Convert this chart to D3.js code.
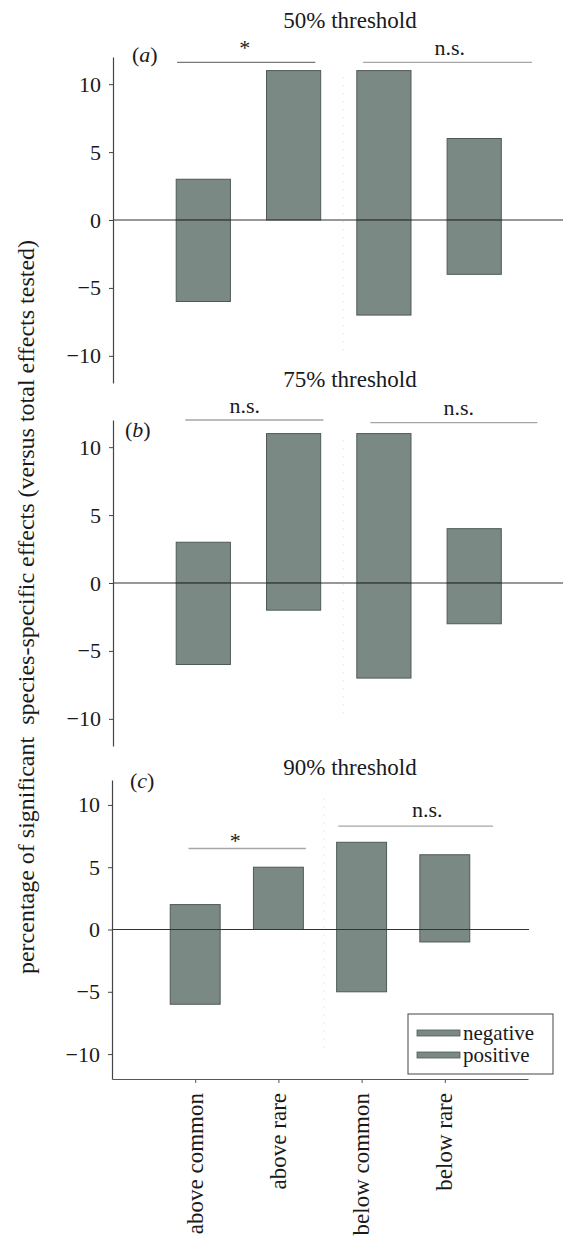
<!DOCTYPE html>
<html>
<head>
<meta charset="utf-8">
<script src="https://cdn.jsdelivr.net/npm/d3@7"></script>
<style>
  body { margin: 0; background: #fff; }
  svg { display: block; font-family: "Liberation Serif", "Times New Roman", serif; }
  svg text { font-family: "Liberation Serif", "Times New Roman", serif; }
</style>
</head>
<body>
<div id="chart"></div>
<script>
// categories along the x axis
const categories = ["above common", "above rare", "below common", "below rare"];

// bar tops (positive) and bar bottoms (negative), one pair per threshold
const positive50 = [3, 11, 11, 6];
const negative50 = [-6, 0, -7, -4];
const positive75 = [3, 11, 11, 4];
const negative75 = [-6, -2, -7, -3];
const positive90 = [2, 5, 7, 6];
const negative90 = [-6, 0, -5, -1];

const thresholds = ["50% threshold", "75% threshold", "90% threshold"];
const panelLetters = ["a", "b", "c"];
const yTicks = [-10, -5, 0, 5, 10];

// significance labels over the two pairs of bars
const sigLabels = [["*", "n.s."], ["n.s.", "n.s."], ["*", "n.s."]];

const width = 563;
const height = 1236;

// panel geometry (the scanned figure has panels of slightly different size)
const panels = [
  { pos: positive50, neg: negative50, top: 57, bottom: 383, left: 113, right: 564.5, zeroEnd: 563, titleY: 28, labelX: 132, labelY: 62,
    sig: [{ x0: 0.71, x1: 2.24, y: 11.6, tx: 1.46, dy: -7, dark: true }, { x0: 2.77, x1: 4.64, y: 11.6, tx: 3.73, dy: -7 }] },
  { pos: positive75, neg: negative75, top: 420, bottom: 746, left: 113, right: 564.5, zeroEnd: 563, titleY: 387, labelX: 125, labelY: 437,
    sig: [{ x0: 0.8, x1: 2.33, y: 12.0, tx: 1.46, dy: -7 }, { x0: 2.85, x1: 4.7, y: 11.8, tx: 3.83, dy: -8 }] },
  { pos: positive90, neg: negative90, top: 780, bottom: 1079, left: 112, right: 528, zeroEnd: 529, titleY: 775, labelX: 130, labelY: 788,
    sig: [{ x0: 0.92, x1: 2.33, y: 6.5, tx: 1.48, dy: -1 }, { x0: 2.72, x1: 4.58, y: 8.3, tx: 3.79, dy: -9 }] },
];

const barFill = "#7b8985";
const barStroke = "#4f5a57";

const svg = d3.select("#chart")
  .append("svg")
  .attr("width", width)
  .attr("height", height);

panels.forEach((p, k) => {
  const x = d3.scaleLinear().domain([0, 5]).range([p.left, p.right]);
  const y = d3.scaleLinear().domain([-12, 12]).range([p.bottom, p.top]);
  const g = svg.append("g");

  // faint dotted divider between "above" and "below"
  g.append("line")
    .attr("x1", x(2.55)).attr("x2", x(2.55))
    .attr("y1", y(10.5)).attr("y2", y(-10))
    .attr("stroke", "#d8d8d8")
    .attr("stroke-dasharray", "1,7");

  // bars: positive part and negative part, same colour
  const rows = categories.map((c, i) => ({ i: i + 1, pos: p.pos[i], neg: p.neg[i] }));
  g.selectAll(".pos").data(rows).join("rect")
    .attr("x", d => x(d.i - 0.3))
    .attr("width", d => x(d.i + 0.3) - x(d.i - 0.3))
    .attr("y", d => y(d.pos))
    .attr("height", d => y(0) - y(d.pos))
    .attr("fill", barFill).attr("stroke", barStroke).attr("stroke-width", 1);
  g.selectAll(".neg").data(rows.filter(d => d.neg < 0)).join("rect")
    .attr("x", d => x(d.i - 0.3))
    .attr("width", d => x(d.i + 0.3) - x(d.i - 0.3))
    .attr("y", y(0))
    .attr("height", d => y(d.neg) - y(0))
    .attr("fill", barFill).attr("stroke", barStroke).attr("stroke-width", 1);

  // zero line
  g.append("line")
    .attr("x1", p.left).attr("x2", p.zeroEnd)
    .attr("y1", y(0)).attr("y2", y(0))
    .attr("stroke", "#333").attr("stroke-width", 1.2);

  // y axis
  const yAxis = g.append("g")
    .attr("transform", `translate(${p.left},0)`)
    .call(d3.axisLeft(y).tickValues(yTicks).tickSize(4).tickSizeOuter(0).tickPadding(8));
  yAxis.select(".domain").attr("stroke", "#444").attr("stroke-width", 1.2);
  yAxis.selectAll(".tick line").attr("stroke", "#444");
  yAxis.selectAll(".tick text")
    .attr("font-size", 22)
    .attr("fill", "#1a1a1a");

  // panel title and letter
  g.append("text")
    .attr("x", 350).attr("y", p.titleY)
    .attr("text-anchor", "middle")
    .attr("font-size", 23).attr("fill", "#1a1a1a")
    .text(thresholds[k]);
  const lab = g.append("text")
    .attr("x", p.labelX).attr("y", p.labelY)
    .attr("font-size", 22).attr("fill", "#1a1a1a");
  lab.append("tspan").text("(");
  lab.append("tspan").attr("font-style", "italic").text(panelLetters[k]);
  lab.append("tspan").text(")");

  // significance lines
  p.sig.forEach((s, j) => {
    g.append("line")
      .attr("x1", x(s.x0)).attr("x2", x(s.x1))
      .attr("y1", y(s.y)).attr("y2", y(s.y))
      .attr("stroke", s.dark ? "#777" : "#a6a6a6")
      .attr("stroke-width", 1.3);
    g.append("text")
      .attr("x", x(s.tx)).attr("y", y(s.y) + s.dy)
      .attr("text-anchor", "middle")
      .attr("font-size", 22).attr("fill", "#1a1a1a")
      .text(sigLabels[k][j]);
  });

  // x axis only on the bottom panel
  if (k === 2) {
    const xAxis = g.append("g")
      .attr("transform", `translate(0,${p.bottom})`)
      .call(d3.axisBottom(x).tickValues([1, 2, 3, 4]).tickSize(4).tickSizeOuter(0)
        .tickFormat(i => categories[i - 1]));
    xAxis.select(".domain").attr("stroke", "#555").attr("stroke-width", 1.2);
    xAxis.selectAll(".tick line").attr("stroke", "#555");
    xAxis.selectAll(".tick text")
      .attr("font-size", 23)
      .attr("fill", "#1a1a1a")
      .attr("text-anchor", "end")
      .attr("transform", "rotate(-90)")
      .attr("x", -14).attr("y", 0).attr("dy", "0.3em");

    // legend
    const lg = g.append("g").attr("transform", "translate(408,1014)");
    lg.append("rect")
      .attr("width", 145).attr("height", 60)
      .attr("fill", "#fff").attr("stroke", "#444").attr("stroke-width", 1);
    ["negative", "positive"].forEach((name, j) => {
      lg.append("rect")
        .attr("x", 9).attr("y", 16 + j * 22)
        .attr("width", 43).attr("height", 6)
        .attr("fill", barFill).attr("stroke", barStroke).attr("stroke-width", 0.8);
      lg.append("text")
        .attr("x", 55).attr("y", 19 + j * 22)
        .attr("dy", "0.32em")
        .attr("font-size", 21).attr("fill", "#1a1a1a")
        .text(name);
    });
  }
});

// shared y axis title
svg.append("text")
  .attr("transform", "translate(26,607) rotate(-90)")
  .attr("text-anchor", "middle")
  .attr("dy", "0.35em")
  .attr("font-size", 24)
  .attr("fill", "#1a1a1a")
  .style("white-space", "pre")
  .text("percentage of significant  species-specific effects (versus total effects tested)");
</script>
</body>
</html>
